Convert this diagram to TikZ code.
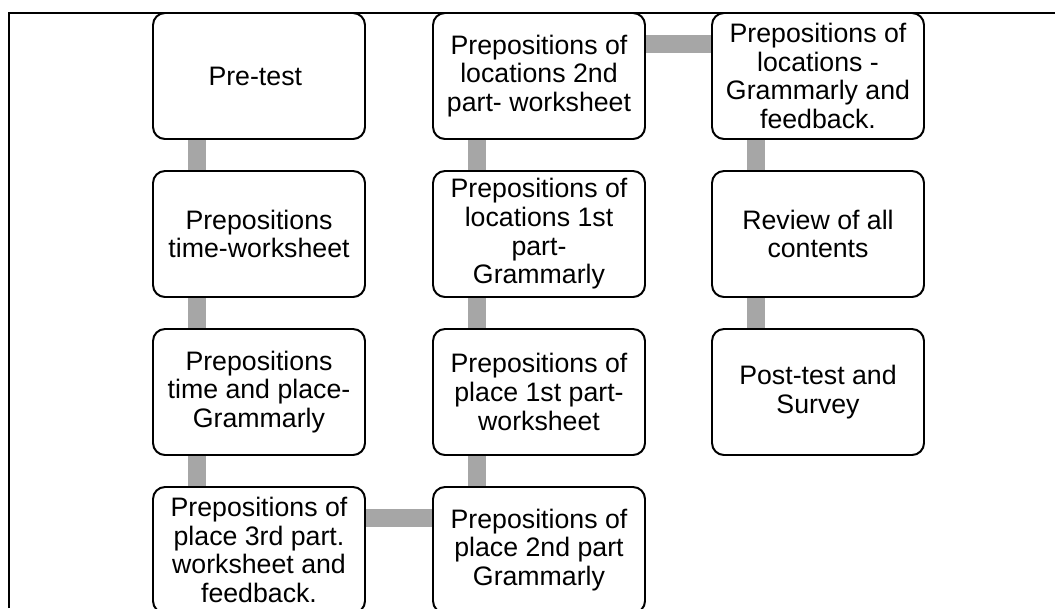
\documentclass[tikz,border=0pt]{standalone}
\usepackage{fontspec}
\setmainfont{Liberation Sans}
\usetikzlibrary{backgrounds}

\begin{document}
\begin{tikzpicture}[
        stepbox/.style={draw, fill=white, rounded corners=0.3cm, line width=1.4pt,
            minimum width=5.3cm, minimum height=3.15cm, align=center, inner sep=2pt,
            font=\fontsize{19pt}{20.4pt}\selectfont},
        link/.style={line width=0.45cm, draw=black!35}
    ]
        \useasboundingbox (0,0) rectangle (26.375,-15.2);
        \draw[line width=0.8pt] (0.225,-15.2) -- (0.225,-0.325) -- (26.375,-0.325);
        \node[stepbox] (PreTest) at (6.475,-1.9) {
            Pre-test
        };
        \node[stepbox] (TimeWorksheet) at (6.475,-5.85) {
            Prepositions\\time-worksheet
        };
        \node[stepbox] (TimePlace) at (6.475,-9.8) {
            Prepositions\\time and place-\\Grammarly
        };
        \node[stepbox] (PlaceThird) at (6.475,-13.75) {
            Prepositions of\\place 3rd part.\\worksheet and\\feedback.
        };
        \node[stepbox] (PlaceSecond) at (13.475,-13.75) {
            Prepositions of\\place 2nd part\\Grammarly
        };
        \node[stepbox] (PlaceFirst) at (13.475,-9.8) {
            Prepositions of\\place 1st part-\\worksheet
        };
        \node[stepbox] (LocationsFirst) at (13.475,-5.85) {
            Prepositions of\\locations 1st\\part-\\Grammarly
        };
        \node[stepbox] (LocationsSecond) at (13.475,-1.9) {
            Prepositions of\\locations 2nd\\part- worksheet
        };
        \node[stepbox] (LocationsFeedback) at (20.45,-1.9) {
            Prepositions of\\locations -\\Grammarly and\\feedback.
        };
        \node[stepbox] (Review) at (20.45,-5.85) {
            Review of all\\contents
        };
        \node[stepbox] (PostTest) at (20.45,-9.8) {
            Post-test and\\Survey
        };
        \begin{scope}[on background layer]
            \draw[link] ([xshift=-1.55cm]PreTest.south) -- ([xshift=-1.55cm]TimeWorksheet.north);
            \draw[link] ([xshift=-1.55cm]TimeWorksheet.south) -- ([xshift=-1.55cm]TimePlace.north);
            \draw[link] ([xshift=-1.55cm]TimePlace.south) -- ([xshift=-1.55cm]PlaceThird.north);
            \draw[link] ([yshift=0.8cm]PlaceThird.east) -- ([yshift=0.8cm]PlaceSecond.west);
            \draw[link] ([xshift=-1.55cm]PlaceSecond.north) -- ([xshift=-1.55cm]PlaceFirst.south);
            \draw[link] ([xshift=-1.55cm]PlaceFirst.north) -- ([xshift=-1.55cm]LocationsFirst.south);
            \draw[link] ([xshift=-1.55cm]LocationsFirst.north) -- ([xshift=-1.55cm]LocationsSecond.south);
            \draw[link] ([yshift=0.8cm]LocationsSecond.east) -- ([yshift=0.8cm]LocationsFeedback.west);
            \draw[link] ([xshift=-1.55cm]LocationsFeedback.south) -- ([xshift=-1.55cm]Review.north);
            \draw[link] ([xshift=-1.55cm]Review.south) -- ([xshift=-1.55cm]PostTest.north);
        \end{scope}
    \end{tikzpicture}
\end{document}
